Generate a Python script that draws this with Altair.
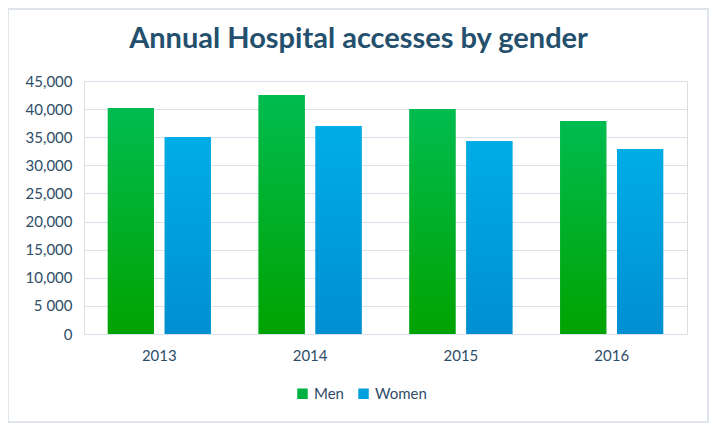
import altair as alt
import pandas as pd

years = ["2013", "2014", "2015", "2016"]
men = [40200, 42500, 40000, 37900]
women = [35000, 37000, 34300, 32900]
genders = ["Men", "Women"]
colors = ["#00B040", "#00A0DC"]
y_ticks = [0, 5000, 10000, 15000, 20000, 25000, 30000, 35000, 40000, 45000]

rows = []
for i, yr in enumerate(years):
    rows.append({"year": yr, "gender": "Men", "value": men[i]})
    rows.append({"year": yr, "gender": "Women", "value": women[i]})
df = pd.DataFrame(rows)

W, H = 603, 253
FONT = "Lato"
TXT = "#2E4D68"

x_enc = alt.X("year:N", sort=years, title=None,
              scale=alt.Scale(paddingInner=0.317, paddingOuter=0.158),
              axis=alt.Axis(labelAngle=0, labelFontSize=15, labelColor=TXT, labelFont=FONT,
                            ticks=False, domain=True, domainColor="#D9E1EA", labelPadding=14))
y_enc = alt.Y("value:Q", title=None,
              scale=alt.Scale(domain=[0, 45000], nice=False),
              axis=alt.Axis(values=y_ticks, labelFontSize=15, labelColor=TXT, labelFont=FONT,
                            ticks=False, domain=False, gridColor="#D9E1EA", gridWidth=1.2,
                            labelPadding=12,
                            labelExpr="datum.value == 5000 ? '5 000' : format(datum.value, ',')"))
xo_enc = alt.XOffset("gender:N", sort=genders,
                     scale=alt.Scale(domain=genders, paddingInner=0.19, paddingOuter=0))

base = alt.Chart(df).mark_bar().encode(
    x=x_enc, y=y_enc, xOffset=xo_enc,
    color=alt.Color("gender:N", sort=genders,
                    scale=alt.Scale(domain=genders, range=colors),
                    legend=alt.Legend(title=None, orient="none", direction="horizontal",
                                      legendX=211, legendY=305, symbolType="square",
                                      symbolSize=110, labelFontSize=15, labelColor=TXT,
                                      labelFont=FONT, columnPadding=12, symbolStrokeWidth=0,
                                      labelOffset=4)),
)

def grad(top, bottom):
    return alt.Gradient(gradient="linear",
                        stops=[alt.GradientStop(color=top, offset=0),
                               alt.GradientStop(color=bottom, offset=1)],
                        x1=0, x2=0, y1=0, y2=1)

men_layer = alt.Chart(df).transform_filter(alt.datum.gender == "Men").mark_bar(
    color=grad("#00BC50", "#00A300")).encode(x=x_enc, y=y_enc, xOffset=xo_enc)
women_layer = alt.Chart(df).transform_filter(alt.datum.gender == "Women").mark_bar(
    color=grad("#00ADE6", "#008FD1")).encode(x=x_enc, y=y_enc, xOffset=xo_enc)

border = alt.Chart(pd.DataFrame({"a": [0]})).mark_rect(
    fill="transparent", stroke="#D6DDE6", strokeWidth=1.5, clip=False).encode(
    x=alt.value(-76), x2=alt.value(W + 21), y=alt.value(-72), y2=alt.value(H + 88))

chart = alt.layer(border, base, men_layer, women_layer).properties(
    width=W, height=H,
    title=alt.TitleParams("Annual Hospital accesses by gender", fontSize=29,
                          font=FONT, fontWeight="bold", color="#24506E",
                          anchor="middle", offset=-46, dx=-27),
    autosize=alt.AutoSizeParams(type="none"),
    padding={"left": 76, "top": 73, "right": 23, "bottom": 90},
).configure_view(stroke=None).configure(background="white")

chart.save("out.html", embed_options={"renderer": "svg", "actions": False})
